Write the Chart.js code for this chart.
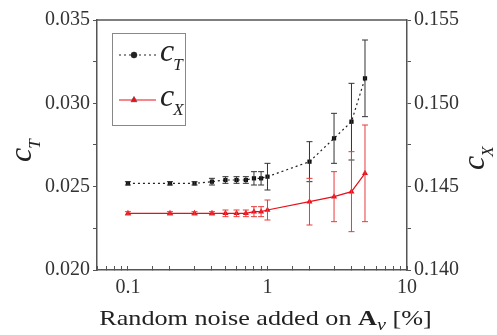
<meta charset="utf8"/>
<style>html,body{margin:0;padding:0;background:#fff;} #wrap{width:497px;height:335px;}</style>
<div id="wrap"><canvas id="_c" width="497" height="335"></canvas></div>
<script src="https://cdn.jsdelivr.net/npm/chart.js"></script>
<script>
const noise = [0.1, 0.2, 0.3, 0.4, 0.5, 0.6, 0.7, 0.8, 0.9, 1, 2, 3, 4, 5];
const cT    = [0.0252, 0.0252, 0.0252, 0.0253, 0.0254, 0.0254, 0.0254, 0.0255, 0.0255, 0.0256, 0.0265, 0.0279, 0.0289, 0.0315];
const cTerr = [0.0001, 0.0001, 0.0001, 0.0002, 0.0002, 0.0002, 0.0002, 0.0004, 0.0004, 0.0008, 0.0012, 0.0015, 0.0023, 0.0023];
const cX    = [0.1434, 0.1434, 0.1434, 0.1434, 0.1434, 0.1434, 0.1434, 0.1435, 0.1435, 0.1436, 0.1441, 0.1444, 0.1447, 0.1458];
const cXerr = [0.0001, 0.0001, 0.0001, 0.0001, 0.0002, 0.0002, 0.0002, 0.0003, 0.0003, 0.0006, 0.0014, 0.0015, 0.0024, 0.0029];
const xLabels = [0.1, 1, 10];

const serif = '"Liberation Serif", "Times New Roman", serif';
const axisCol = '#555';

// vertical error bars with caps, drawn through the chart's scales
const errorBars = {
	id: 'errorBars',
	afterDatasetsDraw(chart) {
		const ctx = chart.ctx;
		chart.data.datasets.forEach((ds, di) => {
			const xs = chart.scales.x, ys = chart.scales[ds.yAxisID];
			ctx.save();
			ctx.strokeStyle = ds.errColor;
			ctx.lineWidth = 1;
			ds.data.forEach((p, i) => {
				const e = ds.err[i];
				const px = xs.getPixelForValue(p.x);
				const top = ys.getPixelForValue(p.y + e), bot = ys.getPixelForValue(p.y - e);
				ctx.beginPath();
				ctx.moveTo(px, top); ctx.lineTo(px, bot);
				ctx.moveTo(px - 3, top); ctx.lineTo(px + 3, top);
				ctx.moveTo(px - 3, bot); ctx.lineTo(px + 3, bot);
				ctx.stroke();
			});
			ctx.restore();
		});
	}
};

// frame, axis titles with subscripts and the legend box
const decor = {
	id: 'decor',
	afterDraw(chart) {
		const ctx = chart.ctx, a = chart.chartArea;
		ctx.save();
		ctx.strokeStyle = axisCol;
		ctx.lineWidth = 1.5;
		ctx.beginPath(); ctx.moveTo(a.left, a.top); ctx.lineTo(a.right, a.top); ctx.stroke();

		const sub = (x, y, main, s, rot) => {
			ctx.save();
			ctx.translate(x, y);
			ctx.rotate(rot);
			ctx.fillStyle = '#222';
			ctx.textBaseline = 'alphabetic';
			ctx.textAlign = 'left';
			ctx.font = 'italic 32px ' + serif;
			ctx.fillText(main, 0, 0);
			const w = ctx.measureText(main).width;
			ctx.font = 'italic 17px ' + serif;
			ctx.fillText(s, w - 1, 9);
			ctx.restore();
		};
		sub(31, 162, 'c', 'T', -Math.PI / 2);
		sub(484, 170, 'c', 'X', -Math.PI / 2);

		// x title, slightly widened like the source
		ctx.save();
		ctx.fillStyle = '#222';
		ctx.textBaseline = 'alphabetic';
		ctx.textAlign = 'left';
		const parts = [
			['22px ' + serif, 'Random noise added on ', 0],
			['bold 22px ' + serif, 'A', 0],
			['italic 17px ' + serif, 'v', 5],
			['22px ' + serif, ' [%]', 0]
		];
		const sx = 1.19;
		let total = 0;
		parts.forEach(p => { ctx.font = p[0]; total += ctx.measureText(p[1]).width; });
		ctx.translate(265.5 - total * sx / 2, 325);
		ctx.scale(sx, 1);
		let x = 0;
		parts.forEach(p => { ctx.font = p[0]; ctx.fillText(p[1], x, p[2]); x += ctx.measureText(p[1]).width; });
		ctx.restore();

		// legend
		ctx.strokeStyle = '#888';
		ctx.lineWidth = 1;
		ctx.strokeRect(112.5, 33.5, 73, 92);
		chart.data.datasets.forEach((ds, i) => {
			const y = [55, 100][i];
			ctx.save();
			ctx.strokeStyle = ds.borderColor;
			ctx.lineWidth = ds.borderWidth;
			ctx.setLineDash(ds.borderDash || []);
			ctx.beginPath(); ctx.moveTo(119, y); ctx.lineTo(156, y); ctx.stroke();
			ctx.restore();
			Chart.helpers.drawPoint(ctx, {pointStyle: ds.legendStyle, radius: ds.pointRadius, borderWidth: 1}, 134, y);
			ctx.fillStyle = ds.borderColor;
			ctx.fill();
			sub(160, y + 6, 'c', ds.label, 0);
		});
		ctx.restore();
	}
};

const mk = (xs, ys) => xs.map((x, i) => ({x: x, y: ys[i]}));
const tickFmt = v => Math.abs(v * 1000 % 5) < 1e-6 || Math.abs(v * 1000 % 5 - 5) < 1e-6 ? v.toFixed(3) : '';

new Chart(_c, {
	type: 'line',
	data: {
		datasets: [
			{
				label: 'T',
				data: mk(noise, cT),
				err: cTerr,
				errColor: '#333',
				yAxisID: 'y',
				borderColor: '#222',
				backgroundColor: '#111',
				borderWidth: 1.2,
				borderDash: [2, 3],
				pointStyle: 'rect',
				legendStyle: 'circle',
				pointRadius: 3,
				pointBorderWidth: 0,
			},
			{
				label: 'X',
				data: mk(noise, cX),
				err: cXerr,
				errColor: '#ea3a3a',
				yAxisID: 'y2',
				borderColor: '#e8101a',
				backgroundColor: '#e8101a',
				borderWidth: 1.2,
				pointStyle: 'triangle',
				legendStyle: 'triangle',
				pointRadius: 3.5,
				pointBorderWidth: 0,
			}
		]
	},
	options: {
		responsive: false,
		animation: false,
		layout: {padding: {top: 20, left: 0, right: 0, bottom: 0}},
		plugins: {legend: {display: false}, tooltip: {enabled: false}},
		scales: {
			x: {
				type: 'logarithmic',
				min: 0.06,
				max: 10,
				afterFit: s => { s.height = 65; },
				border: {color: axisCol, width: 1.5},
				grid: {drawOnChartArea: false, tickLength: -4, color: axisCol},
				ticks: {
					autoSkip: false,
					maxRotation: 0,
					padding: 10,
					color: '#333',
					font: {family: serif, size: 20},
					callback: v => xLabels.includes(+v.toPrecision(3)) ? String(+v.toPrecision(3)) : '',
				},
			},
			y: {
				position: 'left',
				min: 0.020,
				max: 0.035,
				afterFit: s => { s.width = 97; },
				border: {color: axisCol, width: 1.5},
				grid: {drawOnChartArea: false, tickLength: 4, color: axisCol},
				ticks: {
					stepSize: 0.0025,
					padding: 3,
					color: '#333',
					font: {family: serif, size: 20},
					callback: tickFmt,
				},
			},
			y2: {
				position: 'right',
				min: 0.140,
				max: 0.155,
				afterFit: s => { s.width = 90; },
				border: {color: axisCol, width: 1.5},
				grid: {drawOnChartArea: false, tickLength: 4, color: axisCol},
				ticks: {
					stepSize: 0.0025,
					padding: 3,
					color: '#333',
					font: {family: serif, size: 20},
					callback: tickFmt,
				},
			},
		}
	},
	plugins: [errorBars, decor]
});
</script>
